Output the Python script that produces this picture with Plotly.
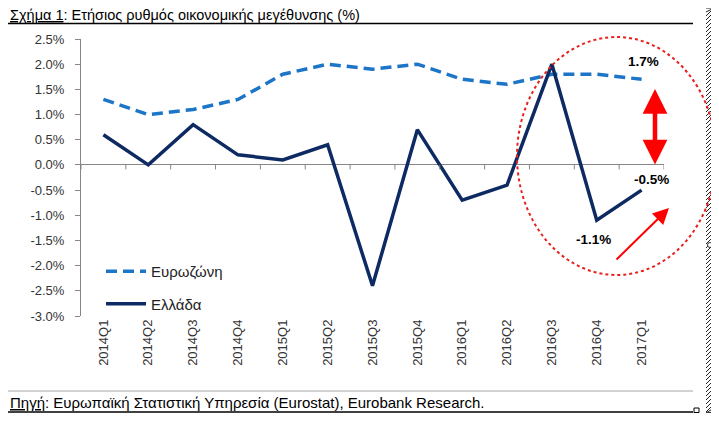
import plotly.graph_objects as go

quarters = ["2014Q1", "2014Q2", "2014Q3", "2014Q4", "2015Q1", "2015Q2", "2015Q3",
            "2015Q4", "2016Q1", "2016Q2", "2016Q3", "2016Q4", "2017Q1"]
eurozone = [1.3, 1.0, 1.1, 1.3, 1.8, 2.0, 1.9, 2.0, 1.7, 1.6, 1.8, 1.8, 1.7]
greece = [0.6, 0.0, 0.8, 0.2, 0.1, 0.4, -2.4, 0.7, -0.7, -0.4, 2.0, -1.1, -0.5]
y_ticks = [2.5, 2.0, 1.5, 1.0, 0.5, 0.0, -0.5, -1.0, -1.5, -2.0, -2.5, -3.0]
y_labels = [f"{v:.1f}%" for v in y_ticks]

OFF = 8  # page body margin
W, H = 719 - OFF, 421 - 2 * OFF
L, R, T, B = 81, 664, 39, 316
FONT = "Liberation Sans, Arial, sans-serif"


def px(x):
    return (x - OFF) / W


def py(y):
    return (H - (y - OFF)) / H


xs = list(range(len(quarters)))

fig = go.Figure()
fig.add_trace(go.Scatter(x=xs, y=eurozone, mode="lines", name="Ευρωζώνη",
                         legendgroup="a",
                         line=dict(color="#1C75C6", width=3.5, dash="11px,6px")))
fig.add_trace(go.Scatter(x=xs, y=greece, mode="lines", name="Ελλάδα",
                         legendgroup="b",
                         line=dict(color="#0E2A63", width=3.5)))

shapes = []
# tick marks below the zero line at category boundaries
for i in range(len(quarters) + 1):
    shapes.append(dict(type="line", xref="x", yref="y", x0=i - 0.5, x1=i - 0.5,
                       y0=0, y1=-0.09, line=dict(color="#868686", width=1)))

# hatched strip at the right edge (decoration)
for k in range(0, 104):
    y0 = k * 4
    shapes.append(dict(type="line", xref="paper", yref="paper", layer="above",
                       x0=px(706), x1=px(714), y0=max(0.0, py(y0 + 8)), y1=min(1.0, py(y0)),
                       line=dict(color="#222222", width=1)))
shapes.append(dict(type="circle", xref="paper", yref="paper", layer="above",
                   x0=px(707.5), x1=px(712.5),
                   y0=py(247.5), y1=py(242.5), line=dict(color="#333333", width=1),
                   fillcolor="white"))

gray = "#A6A6A6"
# frame lines
shapes += [
    dict(type="line", xref="paper", yref="paper", x0=px(0), x1=px(693), y0=py(23.5), y1=py(23.5),
         line=dict(color="black", width=1.3)),
    dict(type="line", xref="paper", yref="paper", x0=px(692.5), x1=px(692.5), y0=0, y1=py(412),
         line=dict(color=gray, width=1)),
    dict(type="line", xref="paper", yref="paper", x0=px(0), x1=px(693), y0=py(391), y1=py(391),
         line=dict(color=gray, width=1)),
    dict(type="line", xref="paper", yref="paper", x0=px(0), x1=px(693), y0=py(412), y1=py(412),
         line=dict(color="black", width=1.3)),
    dict(type="rect", xref="paper", yref="paper", x0=px(694), x1=px(699), y0=py(412.5), y1=py(408),
         line=dict(color="black", width=1), fillcolor="white"),
    # dotted ellipse
    dict(type="circle", xref="paper", yref="paper", x0=px(517), x1=px(716), y0=py(275), y1=py(37),
         line=dict(color="#E8201C", width=2, dash="dot")),
]

annotations = [
    dict(text="<u>Σχήμα 1</u>: Ετήσιος ρυθμός οικονομικής μεγέθυνσης (%)", xref="paper", yref="paper",
         x=0, y=py(15.5), xanchor="left", yanchor="middle", showarrow=False,
         font=dict(family=FONT, size=14.5, color="black")),
    dict(text="<u>Πηγή</u>: Ευρωπαϊκή Στατιστική Υπηρεσία (Eurostat), Eurobank Research.",
         xref="paper", yref="paper", x=0, y=py(402), xanchor="left", yanchor="middle",
         showarrow=False, font=dict(family=FONT, size=15, color="black")),
    dict(text="<b>1.7%</b>", xref="x", yref="y", x=12.05, y=eurozone[-1], yshift=18, showarrow=False,
         font=dict(family=FONT, size=13.5, color="black")),
    dict(text="<b>-0.5%</b>", xref="x", yref="y", x=12.23, y=greece[-1], yshift=11, showarrow=False,
         font=dict(family=FONT, size=13.5, color="black")),
    dict(text="<b>-1.1%</b>", xref="x", yref="y", x=10.92, y=greece[-2], yshift=-19, showarrow=False,
         font=dict(family=FONT, size=13.5, color="black")),
    # red double arrow
    dict(xref="paper", yref="paper", x=px(655), y=py(89), ax=0, ay=77,
         axref="pixel", ayref="pixel", text="", showarrow=True, arrowside="end+start",
         arrowhead=2, arrowsize=1.1, arrowwidth=4.5, arrowcolor="#FF0000", standoff=0,
         startstandoff=0, startarrowhead=2, startarrowsize=1.1),
    # red diagonal arrow
    dict(xref="paper", yref="paper", x=px(669), y=py(208), ax=-54, ay=53,
         axref="pixel", ayref="pixel", text="", showarrow=True,
         arrowhead=2, arrowsize=1.6, arrowwidth=2, arrowcolor="#FF0000", standoff=0),
]

fig.update_layout(
    width=W, height=H,
    margin=dict(l=0, r=0, t=0, b=0, pad=0),
    paper_bgcolor="white", plot_bgcolor="white",
    font=dict(family=FONT, size=13, color="#333333"),
    showlegend=True,
    legend=dict(x=px(101), y=py(255), xanchor="left", yanchor="top", bgcolor="rgba(0,0,0,0)",
                font=dict(family=FONT, size=15, color="#222222"), tracegroupgap=10,
                itemwidth=40),
    xaxis=dict(domain=[px(L), px(R)], range=[-0.5, len(quarters) - 0.5], tickvals=xs,
               ticktext=quarters, tickangle=-90, showgrid=False, zeroline=False,
               showline=False, ticks="", automargin=False,
               tickfont=dict(family=FONT, size=13, color="#333333"), fixedrange=True),
    yaxis=dict(domain=[py(B), py(T)], range=[-3.0, 2.5], tickvals=y_ticks, ticktext=y_labels,
               showgrid=False, automargin=False,
               zeroline=True, zerolinecolor="#868686", zerolinewidth=1,
               showline=True, linecolor="#868686", linewidth=1, ticks="outside",
               ticklen=5, tickcolor="#868686", ticklabelstandoff=8,
               tickfont=dict(family=FONT, size=13, color="#333333"), fixedrange=True),
    shapes=shapes,
    annotations=annotations,
)

fig.write_html("out.html")
